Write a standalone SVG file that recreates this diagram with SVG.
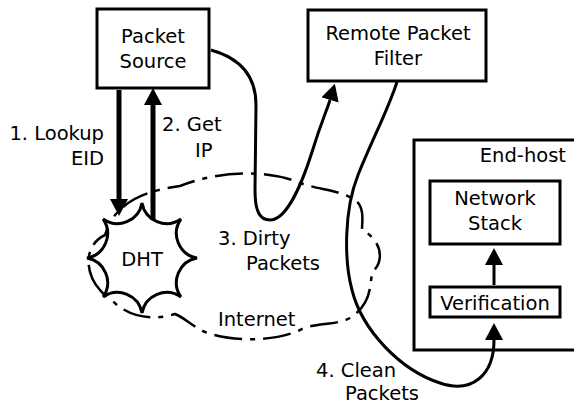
<svg xmlns="http://www.w3.org/2000/svg" width="574" height="404" viewBox="0 0 574 404">
<style>
  text { font-family: "DejaVu Sans", "Liberation Sans", sans-serif; font-size: 19.5px; fill: #000; }
  .box { fill: #fff; stroke: #000; stroke-width: 3; }
  .curve { fill: none; stroke: #000; stroke-width: 3; }
  .thick { fill: none; stroke: #000; stroke-width: 5; }
  .cloud { fill: none; stroke: #000; stroke-width: 2.5; stroke-dasharray: 28 8 5 8; }
  .mid { text-anchor: middle; }
  .end { text-anchor: end; }
</style>
<defs>
  <marker id="arrow" viewBox="0 0 17 18" refX="0" refY="9" markerWidth="17" markerHeight="18" markerUnits="userSpaceOnUse" orient="auto">
    <path d="M0,0 L17,9 L0,18 Z" fill="#000"/>
  </marker>
</defs>

<g id="internet">
  <path class="cloud" d="M100,290 C84,272 84,245 105,235 C115,200 150,190 180,186 C215,172 265,168 300,183 C320,190 340,190 355,200 C365,207 362,222 362,230 C382,240 385,262 372,272 C370,290 370,305 350,318 C335,326 315,322 300,330 C275,342 230,342 205,332 C192,326 185,318 175,314 C150,322 125,315 112,300 C106,296 102,293 100,290 Z"/>
  <text x="218" y="326">Internet</text>
</g>

<g id="dht">
  <path fill="#fff" stroke="#000" stroke-width="3" d="M142,203 A25,25 0 0 0 180.9,219.1 A25,25 0 0 0 197,258 A25,25 0 0 0 180.9,296.9 A25,25 0 0 0 142,313 A25,25 0 0 0 103.1,296.9 A25,25 0 0 0 87,258 A25,25 0 0 0 103.1,219.1 A25,25 0 0 0 142,203 Z"/>
  <text class="mid" x="142" y="266">DHT</text>
</g>

<g id="packet-source">
  <rect class="box" x="97" y="9" width="112" height="79"/>
  <text class="mid" x="153" y="43">Packet</text>
  <text class="mid" x="153" y="68">Source</text>
</g>

<g id="remote-packet-filter">
  <rect class="box" x="308" y="10" width="178" height="71"/>
  <text class="mid" x="398" y="39.5">Remote Packet</text>
  <text class="mid" x="398" y="65">Filter</text>
</g>

<g id="end-host">
  <rect class="box" x="414" y="140" width="200" height="210"/>
  <text class="end" x="566" y="162">End-host</text>
</g>

<g id="network-stack">
  <rect class="box" x="430" y="181" width="130" height="63"/>
  <text class="mid" x="495" y="205">Network</text>
  <text class="mid" x="495" y="230">Stack</text>
</g>

<g id="verification">
  <rect class="box" x="430" y="287" width="130" height="30"/>
  <text class="mid" x="495" y="310">Verification</text>
</g>

<g id="connectors">
  <path class="thick" d="M119,90 L119,199" marker-end="url(#arrow)"/>
  <path class="thick" d="M153,220 L153,105" marker-end="url(#arrow)"/>
  <path class="curve" d="M211,50 C240,58 256,75 256,105 L255,190 C255,212 260,220 270,220 C285,220 300,190 312,152 C322,120 327,110 330,100" marker-end="url(#arrow)"/>
  <path class="curve" d="M397,82 C388,110 372,140 358,175 C344,210 344,260 352,290 C362,330 400,370 440,383 C472,394 494,375 494,340" marker-end="url(#arrow)"/>
  <path class="curve" d="M494,285 L494,265" marker-end="url(#arrow)"/>
  <text class="end" x="104" y="140">1. Lookup</text>
  <text class="end" x="104" y="165">EID</text>
  <text x="162" y="131">2. Get</text>
  <text x="195" y="157">IP</text>
  <text x="218" y="245">3. Dirty</text>
  <text x="246" y="270">Packets</text>
  <text x="316" y="377">4. Clean</text>
  <text x="345" y="400">Packets</text>
</g>
</svg>
